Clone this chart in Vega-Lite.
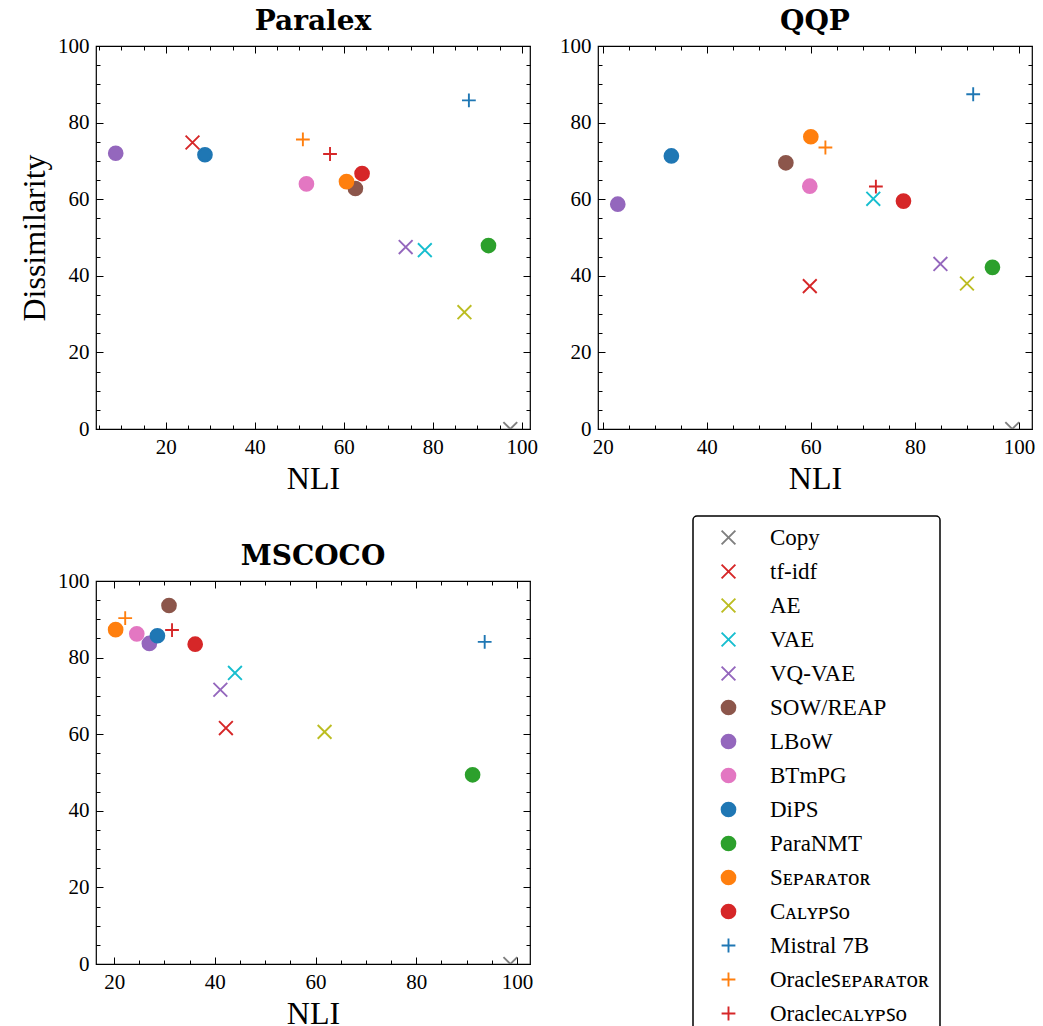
{
  "$schema": "https://vega.github.io/schema/vega-lite/v6.json",
  "background": "white",
  "padding": {"left": 17, "top": 7, "right": 0, "bottom": 0},
  "datasets": {
    "scores": [
      {"dataset": "Paralex", "method": "Copy", "nli": 97.4, "dis": 0},
      {"dataset": "Paralex", "method": "tf-idf", "nli": 26.0, "dis": 74.8},
      {"dataset": "Paralex", "method": "AE", "nli": 87.1, "dis": 30.5},
      {"dataset": "Paralex", "method": "VAE", "nli": 78.2, "dis": 46.7},
      {"dataset": "Paralex", "method": "VQ-VAE", "nli": 73.9, "dis": 47.5},
      {"dataset": "Paralex", "method": "SOW/REAP", "nli": 62.6, "dis": 62.8},
      {"dataset": "Paralex", "method": "LBoW", "nli": 8.75, "dis": 72.0},
      {"dataset": "Paralex", "method": "BTmPG", "nli": 51.6, "dis": 64.0},
      {"dataset": "Paralex", "method": "DiPS", "nli": 28.8, "dis": 71.6},
      {"dataset": "Paralex", "method": "ParaNMT", "nli": 92.5, "dis": 47.9},
      {"dataset": "Paralex", "method": "Sᴇᴘᴀʀᴀᴛᴏʀ", "nli": 60.6, "dis": 64.6},
      {"dataset": "Paralex", "method": "Cᴀʟʏᴘꜱᴏ", "nli": 64.1, "dis": 66.7},
      {"dataset": "Paralex", "method": "Mistral 7B", "nli": 88.1, "dis": 85.8},
      {"dataset": "Paralex", "method": "Oracleꜱᴇᴘᴀʀᴀᴛᴏʀ", "nli": 50.8, "dis": 75.6},
      {"dataset": "Paralex", "method": "Oracleᴄᴀʟʏᴘꜱᴏ", "nli": 56.9, "dis": 71.8},
      {"dataset": "QQP", "method": "Copy", "nli": 98.7, "dis": 0},
      {"dataset": "QQP", "method": "tf-idf", "nli": 59.8, "dis": 37.3},
      {"dataset": "QQP", "method": "AE", "nli": 90.0, "dis": 38.0},
      {"dataset": "QQP", "method": "VAE", "nli": 72.0, "dis": 60.1},
      {"dataset": "QQP", "method": "VQ-VAE", "nli": 84.9, "dis": 43.1},
      {"dataset": "QQP", "method": "SOW/REAP", "nli": 55.2, "dis": 69.5},
      {"dataset": "QQP", "method": "LBoW", "nli": 22.9, "dis": 58.7},
      {"dataset": "QQP", "method": "BTmPG", "nli": 59.8, "dis": 63.4},
      {"dataset": "QQP", "method": "DiPS", "nli": 33.2, "dis": 71.3},
      {"dataset": "QQP", "method": "ParaNMT", "nli": 94.9, "dis": 42.2},
      {"dataset": "QQP", "method": "Sᴇᴘᴀʀᴀᴛᴏʀ", "nli": 60.0, "dis": 76.3},
      {"dataset": "QQP", "method": "Cᴀʟʏᴘꜱᴏ", "nli": 77.8, "dis": 59.5},
      {"dataset": "QQP", "method": "Mistral 7B", "nli": 91.2, "dis": 87.4},
      {"dataset": "QQP", "method": "Oracleꜱᴇᴘᴀʀᴀᴛᴏʀ", "nli": 62.8, "dis": 73.5},
      {"dataset": "QQP", "method": "Oracleᴄᴀʟʏᴘꜱᴏ", "nli": 72.5, "dis": 63.3},
      {"dataset": "MSCOCO", "method": "Copy", "nli": 98.7, "dis": 0},
      {"dataset": "MSCOCO", "method": "tf-idf", "nli": 42.2, "dis": 61.6},
      {"dataset": "MSCOCO", "method": "AE", "nli": 61.8, "dis": 60.6},
      {"dataset": "MSCOCO", "method": "VAE", "nli": 44.0, "dis": 76.0},
      {"dataset": "MSCOCO", "method": "VQ-VAE", "nli": 41.1, "dis": 71.6},
      {"dataset": "MSCOCO", "method": "SOW/REAP", "nli": 30.9, "dis": 93.6},
      {"dataset": "MSCOCO", "method": "LBoW", "nli": 27.0, "dis": 83.7},
      {"dataset": "MSCOCO", "method": "BTmPG", "nli": 24.5, "dis": 86.2},
      {"dataset": "MSCOCO", "method": "DiPS", "nli": 28.6, "dis": 85.7},
      {"dataset": "MSCOCO", "method": "ParaNMT", "nli": 91.2, "dis": 49.4},
      {"dataset": "MSCOCO", "method": "Sᴇᴘᴀʀᴀᴛᴏʀ", "nli": 20.3, "dis": 87.3},
      {"dataset": "MSCOCO", "method": "Cᴀʟʏᴘꜱᴏ", "nli": 36.1, "dis": 83.5},
      {"dataset": "MSCOCO", "method": "Mistral 7B", "nli": 93.6, "dis": 84.1},
      {"dataset": "MSCOCO", "method": "Oracleꜱᴇᴘᴀʀᴀᴛᴏʀ", "nli": 22.2, "dis": 90.3},
      {"dataset": "MSCOCO", "method": "Oracleᴄᴀʟʏᴘꜱᴏ", "nli": 31.5, "dis": 87.2}
    ]
  },
  "columns": 2,
  "spacing": {"row": 152, "column": 68},
  "bounds": "flush",
  "concat": [
    {
      "title": "Paralex",
      "width": 434, "height": 383,
      "data": {"name": "scores"},
      "transform": [{"filter": "datum.dataset === 'Paralex'"}],
      "resolve": {"axis": {"x": "independent", "y": "independent"}},
      "layer": [
        {
          "mark": {"type": "point", "filled": true, "opacity": 1, "size": 190, "strokeWidth": 1.9, "clip": true},
          "encoding": {
            "x": {"field": "nli", "type": "quantitative", "scale": {"domain": [4.32, 101.83], "nice": false, "zero": false},
                  "axis": {"orient": "bottom", "values": [20, 40, 60, 80, 100], "tickSize": -7, "title": "NLI"}},
            "y": {"field": "dis", "type": "quantitative", "scale": {"domain": [0, 100], "nice": false},
                  "axis": {"orient": "left", "values": [0, 20, 40, 60, 80, 100], "tickSize": -7, "title": "Dissimilarity"}},
            "fill": {"field": "method", "type": "nominal", "sort": null, "legend": {"title": null},
                     "scale": {"domain": ["Copy", "tf-idf", "AE", "VAE", "VQ-VAE", "SOW/REAP", "LBoW", "BTmPG", "DiPS", "ParaNMT", "Sᴇᴘᴀʀᴀᴛᴏʀ", "Cᴀʟʏᴘꜱᴏ", "Mistral 7B", "Oracleꜱᴇᴘᴀʀᴀᴛᴏʀ", "Oracleᴄᴀʟʏᴘꜱᴏ"],
                               "range": ["#7f7f7f", "#d62728", "#bcbd22", "#17becf", "#9467bd", "#8c564b", "#9467bd", "#e377c2", "#1f77b4", "#2ca02c", "#ff7f0e", "#d62728", "#1f77b4", "#ff7f0e", "#d62728"]}},
            "stroke": {"field": "method", "type": "nominal", "sort": null, "legend": {"title": null},
                     "scale": {"domain": ["Copy", "tf-idf", "AE", "VAE", "VQ-VAE", "SOW/REAP", "LBoW", "BTmPG", "DiPS", "ParaNMT", "Sᴇᴘᴀʀᴀᴛᴏʀ", "Cᴀʟʏᴘꜱᴏ", "Mistral 7B", "Oracleꜱᴇᴘᴀʀᴀᴛᴏʀ", "Oracleᴄᴀʟʏᴘꜱᴏ"],
                               "range": ["#7f7f7f", "#d62728", "#bcbd22", "#17becf", "#9467bd", "#8c564b", "#9467bd", "#e377c2", "#1f77b4", "#2ca02c", "#ff7f0e", "#d62728", "#1f77b4", "#ff7f0e", "#d62728"]}},
            "shape": {"field": "method", "type": "nominal", "sort": null, "legend": {"title": null},
                     "scale": {"domain": ["Copy", "tf-idf", "AE", "VAE", "VQ-VAE", "SOW/REAP", "LBoW", "BTmPG", "DiPS", "ParaNMT", "Sᴇᴘᴀʀᴀᴛᴏʀ", "Cᴀʟʏᴘꜱᴏ", "Mistral 7B", "Oracleꜱᴇᴘᴀʀᴀᴛᴏʀ", "Oracleᴄᴀʟʏᴘꜱᴏ"],
                               "range": ["M-1,-1L1,1M-1,1L1,-1", "M-1,-1L1,1M-1,1L1,-1", "M-1,-1L1,1M-1,1L1,-1", "M-1,-1L1,1M-1,1L1,-1", "M-1,-1L1,1M-1,1L1,-1", "circle", "circle", "circle", "circle", "circle", "circle", "circle", "M-1,0L1,0M0,-1L0,1", "M-1,0L1,0M0,-1L0,1", "M-1,0L1,0M0,-1L0,1"]}}
          }
        },
        {
          "mark": {"type": "point", "opacity": 0},
          "encoding": {
            "x": {"field": "nli", "type": "quantitative", "axis": {"orient": "top", "values": [20, 40, 60, 80, 100], "tickSize": -7, "labels": false, "title": null}},
            "y": {"field": "dis", "type": "quantitative", "axis": {"orient": "right", "values": [0, 20, 40, 60, 80, 100], "tickSize": -7, "labels": false, "title": null}}
          }
        },
        {
          "mark": {"type": "point", "opacity": 0},
          "encoding": {
            "x": {"field": "nli", "type": "quantitative", "axis": {"orient": "bottom", "values": [5, 10, 15, 20, 25, 30, 35, 40, 45, 50, 55, 60, 65, 70, 75, 80, 85, 90, 95, 100], "tickSize": -4, "labels": false, "title": null}},
            "y": {"field": "dis", "type": "quantitative", "axis": {"orient": "left", "values": [0, 5, 10, 15, 20, 25, 30, 35, 40, 45, 50, 55, 60, 65, 70, 75, 80, 85, 90, 95, 100], "tickSize": -4, "labels": false, "title": null}}
          }
        },
        {
          "mark": {"type": "point", "opacity": 0},
          "encoding": {
            "x": {"field": "nli", "type": "quantitative", "axis": {"orient": "top", "values": [5, 10, 15, 20, 25, 30, 35, 40, 45, 50, 55, 60, 65, 70, 75, 80, 85, 90, 95, 100], "tickSize": -4, "labels": false, "title": null}},
            "y": {"field": "dis", "type": "quantitative", "axis": {"orient": "right", "values": [0, 5, 10, 15, 20, 25, 30, 35, 40, 45, 50, 55, 60, 65, 70, 75, 80, 85, 90, 95, 100], "tickSize": -4, "labels": false, "title": null}}
          }
        }
      ]
    },
    {
      "title": "QQP",
      "width": 434, "height": 383,
      "data": {"name": "scores"},
      "transform": [{"filter": "datum.dataset === 'QQP'"}],
      "resolve": {"axis": {"x": "independent", "y": "independent"}},
      "layer": [
        {
          "mark": {"type": "point", "filled": true, "opacity": 1, "size": 190, "strokeWidth": 1.9, "clip": true},
          "encoding": {
            "x": {"field": "nli", "type": "quantitative", "scale": {"domain": [19.1, 102.5], "nice": false, "zero": false},
                  "axis": {"orient": "bottom", "values": [20, 40, 60, 80, 100], "tickSize": -7, "title": "NLI"}},
            "y": {"field": "dis", "type": "quantitative", "scale": {"domain": [0, 100], "nice": false},
                  "axis": {"orient": "left", "values": [0, 20, 40, 60, 80, 100], "tickSize": -7, "title": null}},
            "fill": {"field": "method", "type": "nominal", "sort": null, "legend": {"title": null},
                     "scale": {"domain": ["Copy", "tf-idf", "AE", "VAE", "VQ-VAE", "SOW/REAP", "LBoW", "BTmPG", "DiPS", "ParaNMT", "Sᴇᴘᴀʀᴀᴛᴏʀ", "Cᴀʟʏᴘꜱᴏ", "Mistral 7B", "Oracleꜱᴇᴘᴀʀᴀᴛᴏʀ", "Oracleᴄᴀʟʏᴘꜱᴏ"],
                               "range": ["#7f7f7f", "#d62728", "#bcbd22", "#17becf", "#9467bd", "#8c564b", "#9467bd", "#e377c2", "#1f77b4", "#2ca02c", "#ff7f0e", "#d62728", "#1f77b4", "#ff7f0e", "#d62728"]}},
            "stroke": {"field": "method", "type": "nominal", "sort": null, "legend": {"title": null},
                     "scale": {"domain": ["Copy", "tf-idf", "AE", "VAE", "VQ-VAE", "SOW/REAP", "LBoW", "BTmPG", "DiPS", "ParaNMT", "Sᴇᴘᴀʀᴀᴛᴏʀ", "Cᴀʟʏᴘꜱᴏ", "Mistral 7B", "Oracleꜱᴇᴘᴀʀᴀᴛᴏʀ", "Oracleᴄᴀʟʏᴘꜱᴏ"],
                               "range": ["#7f7f7f", "#d62728", "#bcbd22", "#17becf", "#9467bd", "#8c564b", "#9467bd", "#e377c2", "#1f77b4", "#2ca02c", "#ff7f0e", "#d62728", "#1f77b4", "#ff7f0e", "#d62728"]}},
            "shape": {"field": "method", "type": "nominal", "sort": null, "legend": {"title": null},
                     "scale": {"domain": ["Copy", "tf-idf", "AE", "VAE", "VQ-VAE", "SOW/REAP", "LBoW", "BTmPG", "DiPS", "ParaNMT", "Sᴇᴘᴀʀᴀᴛᴏʀ", "Cᴀʟʏᴘꜱᴏ", "Mistral 7B", "Oracleꜱᴇᴘᴀʀᴀᴛᴏʀ", "Oracleᴄᴀʟʏᴘꜱᴏ"],
                               "range": ["M-1,-1L1,1M-1,1L1,-1", "M-1,-1L1,1M-1,1L1,-1", "M-1,-1L1,1M-1,1L1,-1", "M-1,-1L1,1M-1,1L1,-1", "M-1,-1L1,1M-1,1L1,-1", "circle", "circle", "circle", "circle", "circle", "circle", "circle", "M-1,0L1,0M0,-1L0,1", "M-1,0L1,0M0,-1L0,1", "M-1,0L1,0M0,-1L0,1"]}}
          }
        },
        {
          "mark": {"type": "point", "opacity": 0},
          "encoding": {
            "x": {"field": "nli", "type": "quantitative", "axis": {"orient": "top", "values": [20, 40, 60, 80, 100], "tickSize": -7, "labels": false, "title": null}},
            "y": {"field": "dis", "type": "quantitative", "axis": {"orient": "right", "values": [0, 20, 40, 60, 80, 100], "tickSize": -7, "labels": false, "title": null}}
          }
        },
        {
          "mark": {"type": "point", "opacity": 0},
          "encoding": {
            "x": {"field": "nli", "type": "quantitative", "axis": {"orient": "bottom", "values": [20, 25, 30, 35, 40, 45, 50, 55, 60, 65, 70, 75, 80, 85, 90, 95, 100], "tickSize": -4, "labels": false, "title": null}},
            "y": {"field": "dis", "type": "quantitative", "axis": {"orient": "left", "values": [0, 5, 10, 15, 20, 25, 30, 35, 40, 45, 50, 55, 60, 65, 70, 75, 80, 85, 90, 95, 100], "tickSize": -4, "labels": false, "title": null}}
          }
        },
        {
          "mark": {"type": "point", "opacity": 0},
          "encoding": {
            "x": {"field": "nli", "type": "quantitative", "axis": {"orient": "top", "values": [20, 25, 30, 35, 40, 45, 50, 55, 60, 65, 70, 75, 80, 85, 90, 95, 100], "tickSize": -4, "labels": false, "title": null}},
            "y": {"field": "dis", "type": "quantitative", "axis": {"orient": "right", "values": [0, 5, 10, 15, 20, 25, 30, 35, 40, 45, 50, 55, 60, 65, 70, 75, 80, 85, 90, 95, 100], "tickSize": -4, "labels": false, "title": null}}
          }
        }
      ]
    },
    {
      "title": "MSCOCO",
      "width": 434, "height": 383,
      "data": {"name": "scores"},
      "transform": [{"filter": "datum.dataset === 'MSCOCO'"}],
      "resolve": {"axis": {"x": "independent", "y": "independent"}},
      "layer": [
        {
          "mark": {"type": "point", "filled": true, "opacity": 1, "size": 190, "strokeWidth": 1.9, "clip": true},
          "encoding": {
            "x": {"field": "nli", "type": "quantitative", "scale": {"domain": [16.4, 102.6], "nice": false, "zero": false},
                  "axis": {"orient": "bottom", "values": [20, 40, 60, 80, 100], "tickSize": -7, "title": "NLI"}},
            "y": {"field": "dis", "type": "quantitative", "scale": {"domain": [0, 100], "nice": false},
                  "axis": {"orient": "left", "values": [0, 20, 40, 60, 80, 100], "tickSize": -7, "title": null}},
            "fill": {"field": "method", "type": "nominal", "sort": null, "legend": {"title": null},
                     "scale": {"domain": ["Copy", "tf-idf", "AE", "VAE", "VQ-VAE", "SOW/REAP", "LBoW", "BTmPG", "DiPS", "ParaNMT", "Sᴇᴘᴀʀᴀᴛᴏʀ", "Cᴀʟʏᴘꜱᴏ", "Mistral 7B", "Oracleꜱᴇᴘᴀʀᴀᴛᴏʀ", "Oracleᴄᴀʟʏᴘꜱᴏ"],
                               "range": ["#7f7f7f", "#d62728", "#bcbd22", "#17becf", "#9467bd", "#8c564b", "#9467bd", "#e377c2", "#1f77b4", "#2ca02c", "#ff7f0e", "#d62728", "#1f77b4", "#ff7f0e", "#d62728"]}},
            "stroke": {"field": "method", "type": "nominal", "sort": null, "legend": {"title": null},
                     "scale": {"domain": ["Copy", "tf-idf", "AE", "VAE", "VQ-VAE", "SOW/REAP", "LBoW", "BTmPG", "DiPS", "ParaNMT", "Sᴇᴘᴀʀᴀᴛᴏʀ", "Cᴀʟʏᴘꜱᴏ", "Mistral 7B", "Oracleꜱᴇᴘᴀʀᴀᴛᴏʀ", "Oracleᴄᴀʟʏᴘꜱᴏ"],
                               "range": ["#7f7f7f", "#d62728", "#bcbd22", "#17becf", "#9467bd", "#8c564b", "#9467bd", "#e377c2", "#1f77b4", "#2ca02c", "#ff7f0e", "#d62728", "#1f77b4", "#ff7f0e", "#d62728"]}},
            "shape": {"field": "method", "type": "nominal", "sort": null, "legend": {"title": null},
                     "scale": {"domain": ["Copy", "tf-idf", "AE", "VAE", "VQ-VAE", "SOW/REAP", "LBoW", "BTmPG", "DiPS", "ParaNMT", "Sᴇᴘᴀʀᴀᴛᴏʀ", "Cᴀʟʏᴘꜱᴏ", "Mistral 7B", "Oracleꜱᴇᴘᴀʀᴀᴛᴏʀ", "Oracleᴄᴀʟʏᴘꜱᴏ"],
                               "range": ["M-1,-1L1,1M-1,1L1,-1", "M-1,-1L1,1M-1,1L1,-1", "M-1,-1L1,1M-1,1L1,-1", "M-1,-1L1,1M-1,1L1,-1", "M-1,-1L1,1M-1,1L1,-1", "circle", "circle", "circle", "circle", "circle", "circle", "circle", "M-1,0L1,0M0,-1L0,1", "M-1,0L1,0M0,-1L0,1", "M-1,0L1,0M0,-1L0,1"]}}
          }
        },
        {
          "mark": {"type": "point", "opacity": 0},
          "encoding": {
            "x": {"field": "nli", "type": "quantitative", "axis": {"orient": "top", "values": [20, 40, 60, 80, 100], "tickSize": -7, "labels": false, "title": null}},
            "y": {"field": "dis", "type": "quantitative", "axis": {"orient": "right", "values": [0, 20, 40, 60, 80, 100], "tickSize": -7, "labels": false, "title": null}}
          }
        },
        {
          "mark": {"type": "point", "opacity": 0},
          "encoding": {
            "x": {"field": "nli", "type": "quantitative", "axis": {"orient": "bottom", "values": [20, 25, 30, 35, 40, 45, 50, 55, 60, 65, 70, 75, 80, 85, 90, 95, 100], "tickSize": -4, "labels": false, "title": null}},
            "y": {"field": "dis", "type": "quantitative", "axis": {"orient": "left", "values": [0, 5, 10, 15, 20, 25, 30, 35, 40, 45, 50, 55, 60, 65, 70, 75, 80, 85, 90, 95, 100], "tickSize": -4, "labels": false, "title": null}}
          }
        },
        {
          "mark": {"type": "point", "opacity": 0},
          "encoding": {
            "x": {"field": "nli", "type": "quantitative", "axis": {"orient": "top", "values": [20, 25, 30, 35, 40, 45, 50, 55, 60, 65, 70, 75, 80, 85, 90, 95, 100], "tickSize": -4, "labels": false, "title": null}},
            "y": {"field": "dis", "type": "quantitative", "axis": {"orient": "right", "values": [0, 5, 10, 15, 20, 25, 30, 35, 40, 45, 50, 55, 60, 65, 70, 75, 80, 85, 90, 95, 100], "tickSize": -4, "labels": false, "title": null}}
          }
        }
      ]
    }
  ],
  "config": {
    "font": "Liberation Serif",
    "view": {"stroke": "black", "strokeWidth": 1.2},
    "axis": {
      "grid": false, "domain": false, "tickColor": "black", "tickWidth": 1,
      "labelFont": "Liberation Serif", "labelFontSize": 21, "labelColor": "black", "labelPadding": 14,
      "titleFont": "Liberation Serif", "titleFontSize": 32, "titleFontWeight": "normal", "titleColor": "black", "titlePadding": 6
    },
    "title": {"font": "DejaVu Serif", "fontSize": 28, "fontWeight": "bold", "color": "black", "offset": -1},
    "legend": {
      "orient": "none", "legendX": 597, "legendY": 470,
      "strokeColor": "black", "strokeWidth": 1.5, "cornerRadius": 4, "fillColor": "white",
      "padding": 10, "rowPadding": 10, "symbolOffset": 14, "labelOffset": 30,
      "labelFont": "Liberation Serif", "labelFontSize": 23, "labelColor": "black", "labelLimit": 300,
      "symbolSize": 190, "symbolStrokeWidth": 1.9, "symbolOpacity": 1
    }
  }
}
